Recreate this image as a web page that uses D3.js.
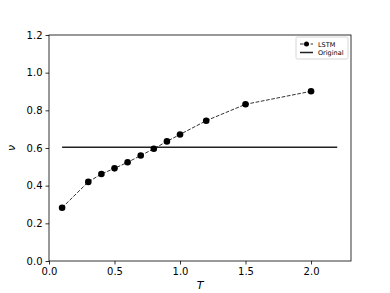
<!DOCTYPE html>
<html>
<head>
<meta charset="utf-8">
<script src="https://cdn.jsdelivr.net/npm/d3@7"></script>
<style>
  body { margin: 0; background: white; }
  text { font-family: "DejaVu Sans", sans-serif; }
</style>
</head>
<body>
<svg id="chart" width="390" height="293"></svg>
<script>
  // values
  let temps = [0.1, 0.3, 0.4, 0.5, 0.6, 0.7, 0.8, 0.9, 1.0, 1.2, 1.5, 2.0];
  let lstm = [0.283, 0.42, 0.462, 0.492, 0.524, 0.56, 0.596, 0.635, 0.672, 0.745, 0.832, 0.901];
  let original = [[0.1, 0.604], [2.2, 0.604]];
  let xTicks = [0.0, 0.5, 1.0, 1.5, 2.0];
  let yTicks = [0.0, 0.2, 0.4, 0.6, 0.8, 1.0, 1.2];

  let svg = d3.select("#chart");
  let margin = {top: 35, bottom: 32, left: 49, right: 39};
  let width = +svg.attr("width"), height = +svg.attr("height");

  let x = d3.scaleLinear().domain([0, 2.305]).range([margin.left, width - margin.right]);
  let y = d3.scaleLinear().domain([0, 1.2]).range([height - margin.bottom, margin.top]);

  // ticks
  let xAxis = svg.append("g").attr("transform", "translate(0," + y(0) + ")")
    .call(d3.axisBottom(x).tickValues(xTicks).tickFormat(d3.format(".1f")).tickSize(3.5).tickPadding(3));
  let yAxis = svg.append("g").attr("transform", "translate(" + x(0) + ",0)")
    .call(d3.axisLeft(y).tickValues(yTicks).tickFormat(d3.format(".1f")).tickSize(3.5).tickPadding(3));
  [xAxis, yAxis].forEach(function(g){
    g.select(".domain").remove();
    g.selectAll("line").attr("stroke", "#000").attr("stroke-width", 0.8);
    g.selectAll("text").attr("font-size", 10).attr("fill", "#000")
      .style("font-family", "DejaVu Sans, sans-serif");
  });

  // frame
  svg.append("rect")
    .attr("x", x(0)).attr("y", y(1.2))
    .attr("width", x(2.305) - x(0)).attr("height", y(0) - y(1.2))
    .attr("fill", "none").attr("stroke", "#000").attr("stroke-width", 0.8);

  // Original line
  svg.append("path")
    .attr("d", d3.line().x(function(d){return x(d[0]);}).y(function(d){return y(d[1]);})(original))
    .attr("fill", "none").attr("stroke", "#222").attr("stroke-width", 1.5);

  // LSTM line
  let pts = temps.map(function(t, i){ return [t, lstm[i]]; });
  svg.append("path")
    .attr("d", d3.line().x(function(d){return x(d[0]);}).y(function(d){return y(d[1]);})(pts))
    .attr("fill", "none").attr("stroke", "#333").attr("stroke-width", 1)
    .attr("stroke-dasharray", "3.7,1.6");
  svg.selectAll(".dot").data(pts).enter().append("circle")
    .attr("class", "dot")
    .attr("cx", function(d){return x(d[0]);})
    .attr("cy", function(d){return y(d[1]);})
    .attr("r", 3.3).attr("fill", "#000");

  // axis labels
  svg.append("text").attr("x", (x(0) + x(2.305)) / 2).attr("y", 289)
    .attr("text-anchor", "middle").attr("font-size", 11).attr("font-style", "italic").text("T");
  svg.append("text").attr("transform", "translate(15," + y(0.6) + ") rotate(-90)")
    .attr("text-anchor", "middle").attr("font-size", 11).attr("font-style", "italic").text("ν");

  // legend
  let lg = svg.append("g").attr("transform", "translate(296,37)");
  lg.append("rect").attr("width", 52).attr("height", 22).attr("rx", 1.5)
    .attr("fill", "white").attr("stroke", "#ccc").attr("stroke-width", 0.8);
  lg.append("line").attr("x1", 4).attr("x2", 17).attr("y1", 7).attr("y2", 7)
    .attr("stroke", "#333").attr("stroke-width", 1).attr("stroke-dasharray", "3.7,1.6");
  lg.append("circle").attr("cx", 10.5).attr("cy", 7).attr("r", 2.5).attr("fill", "#000");
  lg.append("line").attr("x1", 4).attr("x2", 17).attr("y1", 15.5).attr("y2", 15.5)
    .attr("stroke", "#222").attr("stroke-width", 1.5);
  lg.append("text").attr("x", 22).attr("y", 9.5).attr("font-size", 6.5).text("LSTM");
  lg.append("text").attr("x", 22).attr("y", 18).attr("font-size", 6.5).text("Original");
</script>
</body>
</html>
